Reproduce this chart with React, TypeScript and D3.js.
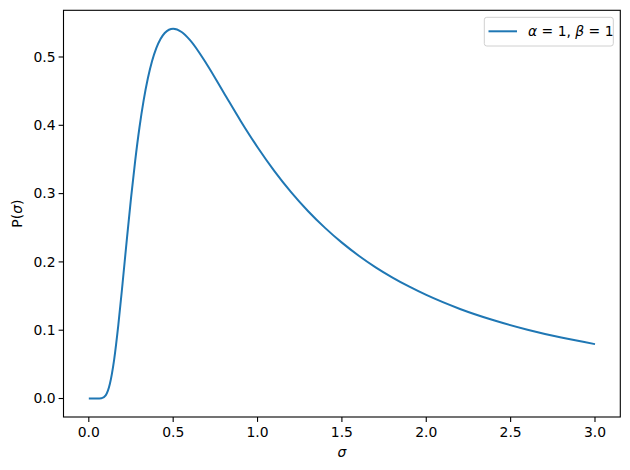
import React from "react";
import * as d3 from "d3";

const sigma = [0, 0.025, 0.05, 0.075, 0.1, 0.125, 0.15, 0.175, 0.2, 0.225, 0.25, 0.275, 0.3, 0.325, 0.35, 0.375, 0.4, 0.425, 0.45, 0.475, 0.5, 0.55, 0.6, 0.7, 0.8, 0.9, 1.0, 1.1, 1.2, 1.3, 1.4, 1.5, 1.6, 1.7, 1.8, 1.9, 2.0, 2.2, 2.4, 2.6, 2.8, 3.0];
const density = [0, 0, 0, 0.0003, 0.00454, 0.02147, 0.05656, 0.1077, 0.1684, 0.232, 0.2931, 0.3484, 0.3964, 0.4365, 0.4688, 0.4941, 0.513, 0.5264, 0.5351, 0.5399, 0.5413, 0.5366, 0.5247, 0.4891, 0.4477, 0.4064, 0.3679, 0.333, 0.3018, 0.2742, 0.2498, 0.2282, 0.2091, 0.1921, 0.1771, 0.1637, 0.1516, 0.1311, 0.1145, 0.1007, 0.0892, 0.0796];
const xTicks = [0, 0.5, 1.0, 1.5, 2.0, 2.5, 3.0];
const yTicks = [0, 0.1, 0.2, 0.3, 0.4, 0.5];

const W = 630, H = 470;
const L = 63.5, R = 620.3, T = 10.3, B = 417;
const FONT = "DejaVu Sans";
const FS = 13.9;
const COLOR = "#1f77b4";

export default function App() {
  const ymax = d3.max(density) as number;
  const x = d3.scaleLinear().domain([-0.15, 3.15]).range([L, R]);
  const y = d3.scaleLinear().domain([-0.05 * ymax, ymax * 1.05]).range([B, T]);
  const pts = sigma.map((s, i) => [s, density[i]] as [number, number]);
  const line = d3.line<[number, number]>().x(d => x(d[0])).y(d => y(d[1])).curve(d3.curveMonotoneX);

  return (
    <svg width={W} height={H} style={{ position: "absolute", left: 0, top: 0, background: "#fff" }} fontFamily={FONT}>
      <rect x={0} y={0} width={W} height={H} fill="#fff" />
      <path d={line(pts) || ""} fill="none" stroke={COLOR} strokeWidth={2} strokeLinejoin="round" strokeLinecap="butt" />
      <rect x={L} y={T} width={R - L} height={B - T} fill="none" stroke="#000" strokeWidth={1.1} />
      {xTicks.map(t => (
        <g key={"x" + t}>
          <line x1={x(t)} x2={x(t)} y1={B} y2={B + 4.9} stroke="#000" strokeWidth={1.1} />
          <text x={x(t)} y={B + 19.5} textAnchor="middle" fontSize={FS} fill="#000">{t.toFixed(1)}</text>
        </g>
      ))}
      {yTicks.map(t => (
        <g key={"y" + t}>
          <line x1={L - 4.9} x2={L} y1={y(t)} y2={y(t)} stroke="#000" strokeWidth={1.1} />
          <text x={L - 8} y={y(t)} dy="0.35em" textAnchor="end" fontSize={FS} fill="#000">{t.toFixed(1)}</text>
        </g>
      ))}
      <text x={(L + R) / 2} y={457} textAnchor="middle" fontSize={FS} fontStyle="italic" fill="#000">σ</text>
      <text transform={`translate(22,${(T + B) / 2}) rotate(-90)`} textAnchor="middle" fontSize={FS} fill="#000">
        P(<tspan fontStyle="italic">σ</tspan>)
      </text>
      <g>
        <rect x={484.3} y={17.3} width={129} height={28.7} rx={2.5} fill="#fff" fillOpacity={0.8} stroke="#d0d0d0" strokeWidth={1} />
        <line x1={488.5} x2={517} y1={31.3} y2={31.3} stroke={COLOR} strokeWidth={2} />
        <text x={528} y={31.3} dy="0.35em" fontSize={FS} fill="#000">
          <tspan fontStyle="italic">α</tspan> = 1, <tspan fontStyle="italic">β</tspan> = 1
        </text>
      </g>
    </svg>
  );
}
